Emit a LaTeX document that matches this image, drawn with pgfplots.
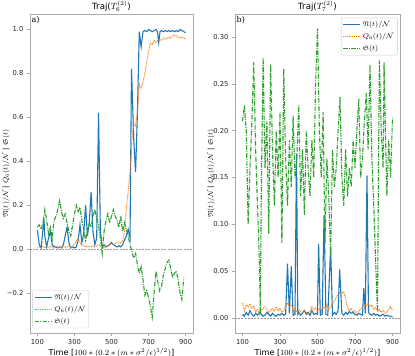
\documentclass[border=0pt]{standalone}
\usepackage{fontspec}
\setmainfont{DejaVu Sans}
\newfontfamily\serifpanel{DejaVu Serif}
\usepackage{amssymb}
\usepackage{pgfplots}
\pgfplotsset{compat=1.18}

\definecolor{mblue}{HTML}{1F77B4}
\definecolor{morange}{HTML}{FF7F0E}
\definecolor{mgreen}{HTML}{2CA02C}
\definecolor{spine}{HTML}{AAAAAA}

\pgfplotsset{
  panel/.style={
    scale only axis,
    width=163pt, height=318.5pt,
    axis line style={spine, line width=0.6pt},
    tick style={spine, line width=0.6pt},
    tick align=outside,
    major tick length=3pt,
    xtick pos=bottom, ytick pos=left,
    xmin=60, xmax=940,
    xtick={100,300,500,700,900},
    ticklabel style={font=\fontsize{6.8}{7}\selectfont, text=black!85},
    /pgf/number format/assume math mode=true,
    xlabel={Time [$100\ast(0.2\ast(m\ast\sigma^2/\epsilon)^{1/2})$]},
    xlabel style={font=\fontsize{8.1}{8}\selectfont, yshift=3.5pt},
    ylabel={$\mathfrak{N}(t)/\mathcal{N}$ | $Q_6(t)/\mathcal{N}$ | $\mathfrak{S}(t)$},
    every axis y label/.style={at={(rel axis cs:0,0.5)}, anchor=center,
      xshift=-24pt, rotate=90, font=\fontsize{7}{8}\selectfont},
    title style={font=\fontsize{8.6}{9}\selectfont, yshift=-7pt},
    legend style={font=\fontsize{6.6}{7}\selectfont, draw=spine!60, fill=white,
      rounded corners=1pt, inner sep=1.5pt, row sep=1pt},
    legend cell align=left,
  },
  nline/.style={draw=mblue, line width=1.1pt,
    legend image code/.code={\draw[mblue, line width=1.1pt] (0cm,0cm) -- (0.6cm,0cm);}},
  qline/.style={draw=morange, line width=1.0pt, dash pattern=on 0.9pt off 0.9pt,
    legend image code/.code={\draw[morange, line width=1.0pt, dash pattern=on 0.9pt off 0.9pt] (0cm,0cm) -- (0.6cm,0cm);}},
  sline/.style={draw=mgreen, line width=1.1pt, dash pattern=on 4.5pt off 1.3pt on 0.9pt off 1.3pt,
    legend image code/.code={\draw[mgreen, line width=1.1pt, dash pattern=on 4.5pt off 1.3pt on 0.9pt off 1.3pt] (0cm,0cm) -- (0.6cm,0cm);}},
  zline/.style={draw=gray!80, line width=0.5pt, dash pattern=on 2pt off 1.2pt},
}

\begin{document}
\begin{tikzpicture}
\path[use as bounding box] (0,0) rectangle (415pt,356pt);

% panel a)
\begin{axis}[panel, at={(30pt,23pt)}, anchor=south west,
  ymin=-0.382, ymax=1.068,
  ytick={-0.2,0,0.2,0.4,0.6,0.8,1.0},
  yticklabels={−0.2,0.0,0.2,0.4,0.6,0.8,1.0},
  title={Traj($T_6^{(2)}$)},
  legend style={at={(0.015,0.015)}, anchor=south west},
]
\addplot[zline, forget plot] coordinates {(60,0) (940,0)};
\addplot[nline] coordinates {
(100,0.086) (110,0.02) (120,0.005) (130,0.09) (135,0.14) (140,0.06) (150,0.01)
(160,0.05) (170,0.08) (180,0.02) (190,0.01) (200,0.01) (210,0.005) (220,0.01)
(230,0.005) (240,0.02) (250,0.06) (260,0.10) (270,0.03) (280,0.005) (290,0.01)
(300,0.005) (310,0.01) (320,0.04) (330,0.11) (340,0.03) (350,0.07) (360,0.20)
(370,0.06) (380,0.12) (390,0.26) (400,0.08) (410,0.02) (420,0.05) (430,0.62)
(440,0.08) (450,0.01) (460,0.02) (470,0.01) (480,0.015) (490,0.02) (500,0.03)
(510,0.02) (520,0.015) (530,0.01) (540,0.015) (550,0.01) (560,0.02) (570,0.04)
(580,0.06) (590,0.09) (600,0.05) (608,0.82) (620,0.50) (630,0.35) (640,0.62)
(650,0.99) (660,0.92) (670,0.99) (680,0.995) (690,0.99) (700,1.0) (710,0.995)
(720,0.99) (730,0.995) (740,1.0) (748,0.99) (755,0.94) (762,0.99) (770,0.995)
(780,0.99) (790,0.995) (800,0.99) (810,0.995) (820,0.99) (830,0.995) (840,0.99)
(850,0.995) (860,0.99) (870,1.0) (880,0.995) (890,0.99) (900,0.985)
};
\addplot[qline] coordinates {
(100,0.005) (110,0.01) (120,0.008) (130,0.012) (140,0.005) (150,0.01) (160,0.008)
(170,0.012) (180,0.01) (190,0.005) (200,0.008) (210,0.01) (220,0.006) (230,0.01)
(240,0.012) (250,0.008) (260,0.01) (270,0.012) (280,0.008) (290,0.015) (300,0.02)
(310,0.035) (320,0.05) (330,0.03) (340,0.02) (350,0.015) (360,0.01) (370,0.015)
(380,0.01) (390,0.012) (400,0.015) (410,0.01) (420,0.015) (430,0.02) (440,0.015)
(450,0.01) (460,0.008) (470,0.01) (480,0.012) (490,0.02) (500,0.025) (510,0.022)
(520,0.025) (530,0.03) (540,0.028) (550,0.03) (560,0.035) (570,0.08) (580,0.18)
(590,0.26) (600,0.35) (610,0.50) (620,0.57) (630,0.56) (640,0.62) (650,0.75)
(660,0.73) (670,0.76) (680,0.80) (690,0.85) (700,0.90) (710,0.94) (720,0.93)
(730,0.95) (740,0.94) (750,0.95) (760,0.955) (770,0.95) (780,0.96) (790,0.955)
(800,0.96) (810,0.965) (820,0.96) (830,0.97) (840,0.975) (850,0.97) (860,0.965)
(870,0.96) (880,0.965) (890,0.96) (900,0.955)
};
\addplot[sline] coordinates {
(100,0.10) (110,0.11) (120,0.09) (130,0.12) (140,0.18) (150,0.13) (160,0.07)
(170,0.10) (180,0.05) (190,0.13) (200,0.15) (210,0.18) (220,0.22) (230,0.17)
(240,0.14) (250,0.16) (260,0.12) (270,0.08) (280,0.06) (290,0.11) (300,0.16)
(310,0.20) (320,0.17) (330,0.19) (340,0.13) (350,0.09) (360,0.04) (370,0.08)
(380,0.12) (390,0.10) (400,0.15) (410,0.18) (420,0.14) (430,0.11) (440,0.05)
(450,-0.02) (460,0.08) (470,0.13) (480,0.16) (490,0.12) (500,0.15) (510,0.18)
(520,0.15) (530,0.13) (540,0.10) (550,0.15) (560,0.08) (570,0.12) (580,0.09)
(590,0.06) (600,0.02) (610,-0.01) (620,-0.04) (630,-0.02) (640,-0.07) (650,-0.11)
(660,-0.08) (670,-0.14) (680,-0.21) (690,-0.19) (700,-0.22) (710,-0.26) (720,-0.31)
(730,-0.20) (740,-0.10) (750,-0.15) (760,-0.19) (770,-0.17) (780,-0.12) (790,-0.09)
(800,-0.06) (810,-0.05) (820,-0.09) (830,-0.13) (840,-0.11) (850,-0.10) (860,-0.14)
(870,-0.20) (880,-0.23) (890,-0.13)
};
\legend{$\mathfrak{N}(t)/\mathcal{N}$, $Q_6(t)/\mathcal{N}$, $\mathfrak{S}(t)$}
\node[anchor=north west, font=\serifpanel\fontsize{8}{9}\selectfont, inner sep=1.5pt]
  at (rel axis cs:0,1) {a)};
\end{axis}

% panel b)
\begin{axis}[panel, at={(235pt,23pt)}, anchor=south west, width=165pt,
  ymin=-0.016, ymax=0.324,
  ytick={0,0.05,0.10,0.15,0.20,0.25,0.30},
  yticklabel style={/pgf/number format/.cd, fixed, fixed zerofill, precision=2},
  title={Traj($T_7^{(2)}$)},
  legend style={at={(0.985,0.99)}, anchor=north east},
]
\addplot[zline, forget plot] coordinates {(60,0) (940,0)};
\addplot[nline] coordinates {
(100,0.004) (110,0.002) (120,0.006) (130,0.003) (140,0.008) (150,0.004) (160,0.002)
(170,0.005) (180,0.003) (190,0.006) (200,0.004) (210,0.002) (220,0.003) (230,0.006)
(240,0.004) (250,0.002) (260,0.005) (270,0.003) (280,0.002) (290,0.004) (300,0.003)
(310,0.005) (320,0.003) (330,0.004) (340,0.058) (350,0.005) (360,0.055) (370,0.003)
(380,0.004) (388,0.175) (395,0.004) (400,0.006) (410,0.003) (420,0.005) (430,0.008)
(440,0.004) (450,0.006) (460,0.003) (470,0.008) (480,0.004) (490,0.005) (500,0.004)
(506,0.079) (515,0.003) (525,0.004) (535,0.11) (545,0.004) (555,0.003) (570,0.075)
(580,0.003) (590,0.006) (600,0.004) (610,0.008) (618,0.052) (630,0.005) (640,0.003)
(650,0.006) (660,0.004) (670,0.007) (680,0.005) (690,0.006) (700,0.004) (710,0.003)
(720,0.005) (730,0.004) (740,0.003) (747,0.032) (755,0.005) (764,0.152) (772,0.006)
(780,0.004) (790,0.003) (800,0.005) (810,0.003) (820,0.004) (830,0.002) (840,0.003)
(850,0.004) (860,0.002) (870,0.003) (880,0.002) (890,0.002) (900,0.001)
};
\addplot[qline] coordinates {
(100,0.016) (110,0.008) (120,0.014) (130,0.012) (140,0.015) (150,0.010) (160,0.013)
(170,0.006) (180,0.010) (190,0.004) (200,0.008) (210,0.010) (220,0.012) (230,0.009)
(240,0.006) (250,0.008) (260,0.010) (270,0.007) (280,0.012) (290,0.008) (300,0.010)
(310,0.006) (320,0.008) (330,0.013) (340,0.016) (350,0.012) (360,0.014) (370,0.008)
(380,0.010) (390,0.006) (400,0.009) (410,0.007) (420,0.005) (430,0.008) (440,0.006)
(450,0.004) (460,0.007) (470,0.012) (480,0.009) (490,0.011) (500,0.007) (510,0.010)
(520,0.008) (530,0.012) (540,0.010) (550,0.014) (560,0.009) (570,0.012) (580,0.015)
(590,0.018) (600,0.022) (610,0.025) (620,0.027) (630,0.026) (640,0.028) (650,0.020)
(660,0.012) (670,0.008) (680,0.010) (690,0.006) (700,0.008) (710,0.005) (720,0.007)
(730,0.010) (740,0.012) (750,0.015) (760,0.013) (770,0.016) (780,0.012) (790,0.014)
(800,0.009) (810,0.011) (820,0.007) (830,0.009) (840,0.006) (850,0.008) (860,0.005)
(870,0.007) (880,0.009) (890,0.012) (900,0.008)
};
\addplot[sline] coordinates {
(100,0.21) (110,0.227) (120,0.20) (130,0.10) (140,0.16) (150,0.21) (160,0.273)
(170,0.18) (180,0.12) (190,0.06) (195,0.004) (200,0.13) (210,0.278) (220,0.16)
(230,0.21) (240,0.09) (250,0.271) (260,0.18) (270,0.12) (280,0.20) (290,0.15)
(300,0.22) (310,0.08) (320,0.266) (330,0.17) (340,0.12) (350,0.19) (360,0.14)
(370,0.216) (380,0.15) (390,0.17) (400,0.227) (410,0.13) (420,0.18) (430,0.11)
(440,0.20) (450,0.16) (460,0.13) (470,0.19) (480,0.15) (490,0.25) (500,0.309)
(510,0.20) (520,0.15) (530,0.22) (540,0.08) (550,0.17) (560,0.13) (570,0.066)
(580,0.18) (590,0.14) (600,0.16) (610,0.20) (620,0.236) (630,0.15) (640,0.12)
(650,0.18) (660,0.13) (670,0.16) (680,0.14) (690,0.19) (700,0.16) (710,0.20)
(720,0.234) (730,0.15) (740,0.17) (750,0.21) (760,0.24) (770,0.18) (780,0.27)
(790,0.17) (800,0.12) (810,0.06) (820,0.007) (825,0.15) (830,0.275) (840,0.20)
(850,0.16) (855,0.273) (860,0.22) (870,0.13) (880,0.19) (890,0.15) (900,0.214)
};
\legend{$\mathfrak{N}(t)/\mathcal{N}$, $Q_6(t)/\mathcal{N}$, $\mathfrak{S}(t)$}
\node[anchor=north west, font=\serifpanel\fontsize{8}{9}\selectfont, inner sep=1.5pt]
  at (rel axis cs:0,1) {b)};
\end{axis}
\end{tikzpicture}
\end{document}
